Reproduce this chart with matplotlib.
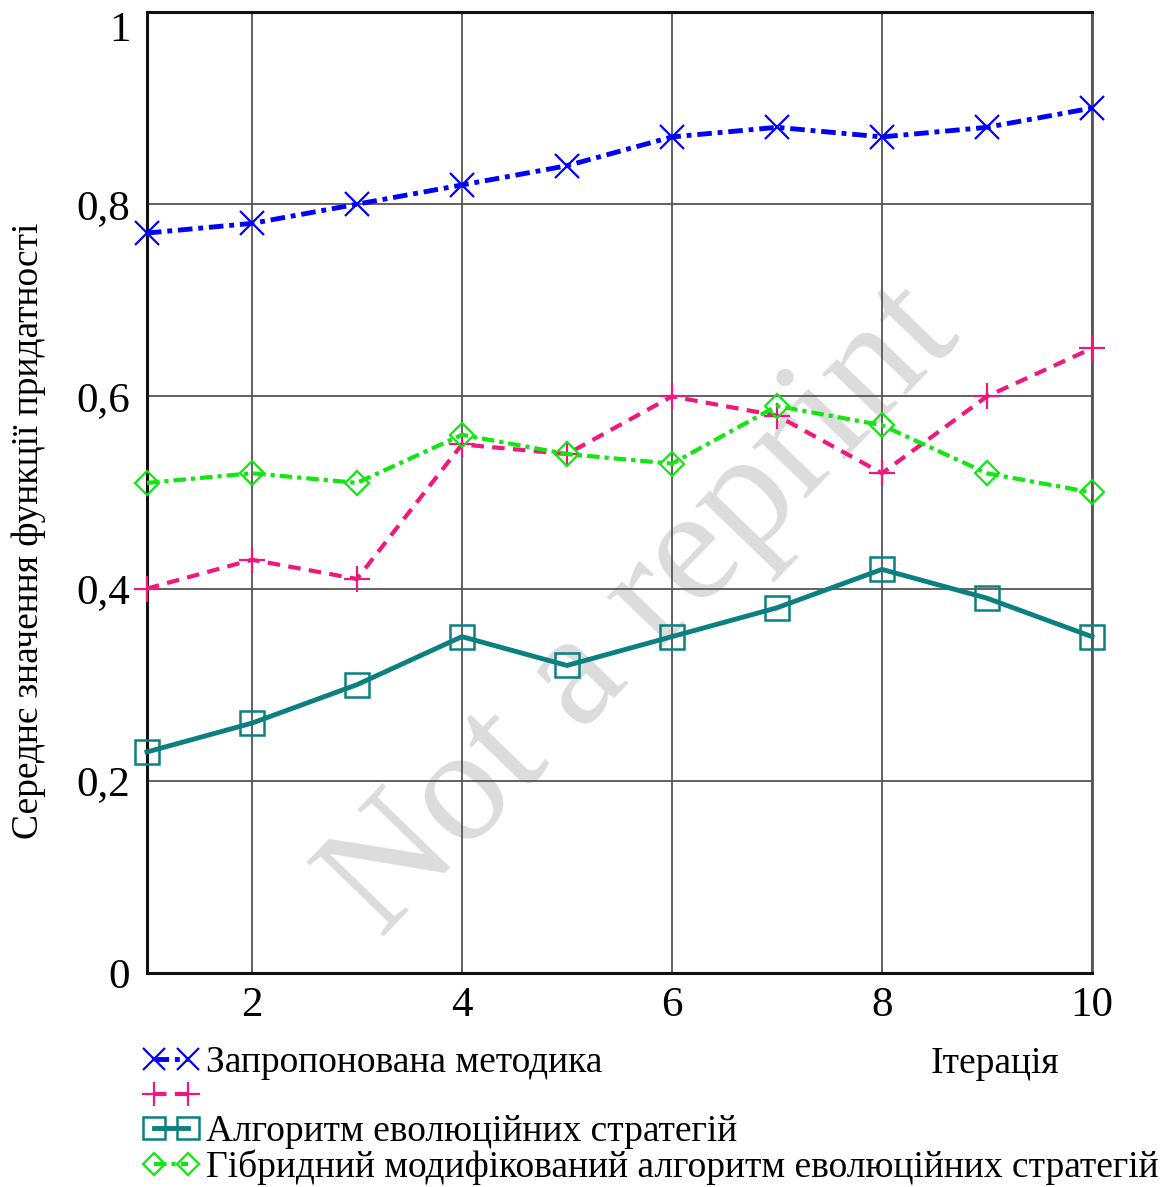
import matplotlib
matplotlib.use('Agg')
import matplotlib.pyplot as plt

plt.rcParams['font.family'] = ['Liberation Serif', 'DejaVu Serif']

iterations = [1, 2, 3, 4, 5, 6, 7, 8, 9, 10]
proposed = [0.77, 0.78, 0.80, 0.82, 0.84, 0.87, 0.88, 0.87, 0.88, 0.90]
evo_strat = [0.40, 0.43, 0.41, 0.55, 0.54, 0.60, 0.58, 0.52, 0.60, 0.65]
evo_alg = [0.23, 0.26, 0.30, 0.35, 0.32, 0.35, 0.38, 0.42, 0.39, 0.35]
hybrid = [0.51, 0.52, 0.51, 0.56, 0.54, 0.53, 0.59, 0.57, 0.52, 0.50]

# legend rows as in the source: the second entry has no text of its own
labels = ['Запропонована методика',
          '',
          'Алгоритм еволюційних стратегій',
          'Гібридний модифікований алгоритм еволюційних стратегій']
x_ticks = [2, 4, 6, 8, 10]
y_ticks = [0, 0.2, 0.4, 0.6, 0.8, 1]
y_ticklabels = ['0', '0,2', '0,4', '0,6', '0,8', '1']

fig = plt.figure(figsize=(11.7, 11.87), dpi=100)
ax = fig.add_axes([0.1256, 0.1803, 0.8077, 0.8096])

# watermark
ax.text(0.55, 0.485, 'Not a reprint', transform=fig.transFigure, rotation=46,
        fontsize=118, color='#dcdcdc', ha='center', va='center',
        zorder=0.2, clip_on=False)

l1, = ax.plot(iterations, proposed, color='#0000ff', lw=3.5, ls=(0, (3, 1.2, 1, 1.2)),
              marker='x', ms=17, mew=1.6, zorder=5, clip_on=False)
l2, = ax.plot(iterations, evo_strat, color='#f0187c', lw=3, ls=(0, (3, 2)),
              marker='+', ms=19, mew=1.6, zorder=4, clip_on=False)
l3, = ax.plot(iterations, evo_alg, color='#0b8080', lw=3.5, ls='-',
              marker='s', ms=17, mew=1.8, mfc='none', zorder=4, clip_on=False)
l4, = ax.plot(iterations, hybrid, color='#11e611', lw=3, ls=(0, (3, 1.2, 1, 1.2)),
              marker='D', ms=12, mew=1.6, mfc='none', zorder=4, clip_on=False)

ax.set_xlim(1, 10)
ax.set_ylim(0, 1)
ax.set_xticks(x_ticks)
ax.set_xticklabels([str(v) for v in x_ticks])
ax.set_yticks(y_ticks)
ax.set_yticklabels(y_ticklabels)
ax.tick_params(length=0, labelsize=31)
ax.tick_params(axis='y', pad=12)
ax.tick_params(axis='x', pad=10)
ax.get_yticklabels()[-1].set_va('top')
ax.set_axisbelow(True)
ax.grid(True, color='#555555', lw=1.3)
for side in ['left', 'bottom', 'top']:
    ax.spines[side].set_linewidth(2.2)
    ax.spines[side].set_color('#111111')
ax.spines['right'].set_linewidth(2)
ax.spines['right'].set_color('#555555')

ax.set_ylabel('Середнє значення функції придатності', fontsize=27)
ax.yaxis.set_label_coords(-0.107, 0.46)
fig.text(0.85, 0.104, 'Ітерація', fontsize=27, ha='center', va='center')

leg = fig.legend([l1, l2, l3, l4], labels,
                 loc='upper left', bbox_to_anchor=(0.122, 0.119), frameon=False,
                 fontsize=27, handlelength=1.5, handletextpad=0.2, numpoints=2,
                 markerscale=0.9, labelspacing=0.0, borderaxespad=0,
                 borderpad=0)

fig.savefig('out.png', dpi=100, facecolor='white')
